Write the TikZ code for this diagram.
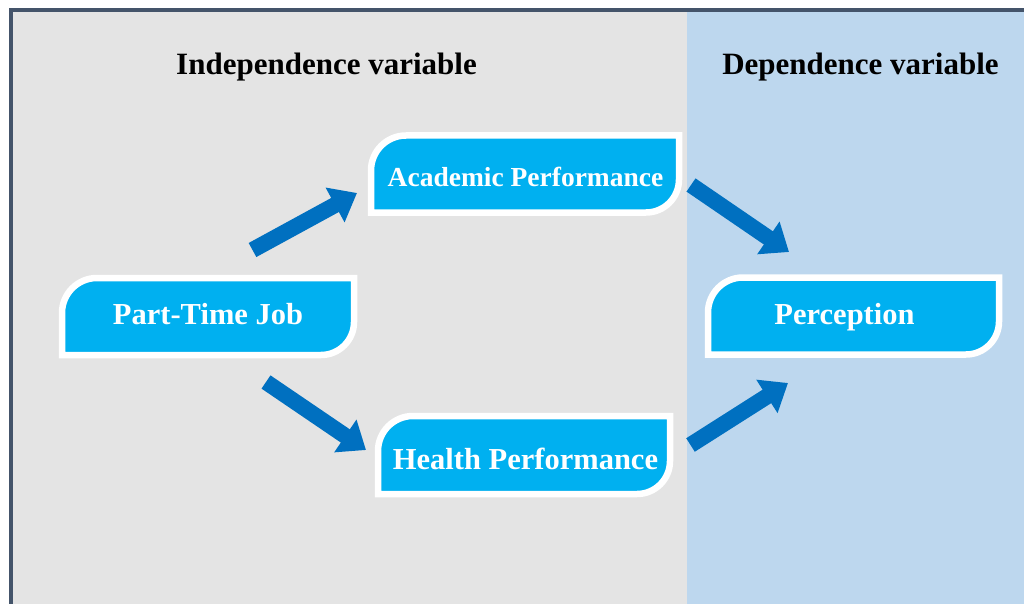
\documentclass[tikz,border=0pt]{standalone}
\usepackage{fontspec}
\setmainfont{Liberation Serif}
\usetikzlibrary{calc,arrows.meta}

\definecolor{panelgray}{HTML}{E4E4E4}
\definecolor{panelblue}{HTML}{BDD7EE}
\definecolor{framecol}{HTML}{44546A}
\definecolor{boxcyan}{HTML}{00B0F0}
\definecolor{arrowblue}{HTML}{0070C0}

% leaf-shaped box: rounded top-left and bottom-right corners, sharp others
\newcommand\leafbox[1]{%
  \filldraw[leaf] (#1.west) [rounded corners=35pt] -- (#1.north west) -- (#1.north)
    [sharp corners] -- (#1.north east) -- (#1.east)
    [rounded corners=33pt] -- (#1.south east) -- (#1.south)
    [sharp corners] -- (#1.south west) -- cycle;}

\tikzset{
  holder/.style={draw=none, inner sep=0pt, outer sep=0pt, rectangle},
  leaf/.style={fill=boxcyan, draw=white, line width=6.5pt},
  boxtext/.style={text=white, anchor=base, inner sep=0pt,
    font=\bfseries\fontsize{30.5}{36}\selectfont},
  heading/.style={text=black, anchor=base, inner sep=0pt,
    font=\bfseries\fontsize{31}{37}\selectfont},
  blockarrow/.style={draw=arrowblue, line width=16pt,
    -{Triangle[width=38pt,length=25pt]}}
}

\begin{document}
\begin{tikzpicture}[x=1pt,y=-1pt]
  \useasboundingbox (0,0) rectangle (1024,604);
  \fill[white] (0,0) rectangle (1024,604);

  % two panels and the frame
  \fill[panelgray] (13,12) rectangle (687,604);
  \fill[panelblue] (687,12) rectangle (1024,604);
  \draw[framecol, line width=4pt] (11,610) -- (11,10) -- (1030,10);

  % headings
  \node[heading] (indep) at (326.5,75) {Independence variable};
  \node[heading] (dep) at (860.5,75) {Dependence variable};

  % box frames
  \node[holder, minimum width=292pt, minimum height=77pt] (ptj) at (208,316.5) {};
  \node[holder, minimum width=308pt, minimum height=77pt] (acad) at (525,174) {};
  \node[holder, minimum width=292pt, minimum height=78pt] (health) at (524,455) {};
  \node[holder, minimum width=291pt, minimum height=77pt] (perc) at (853.5,316) {};

  \leafbox{ptj}
  \leafbox{acad}
  \leafbox{health}
  \leafbox{perc}

  % box labels
  \node[boxtext] (ptjtext) at ($(ptj.center)+(0,8)$) {Part-Time Job};
  \node[boxtext, font=\bfseries\fontsize{27.5}{33}\selectfont] (acadtext)
    at ($(acad.center)+(0.5,12)$) {Academic Performance};
  \node[boxtext] (healthtext) at ($(health.center)+(1.5,14)$) {Health Performance};
  \node[boxtext] (perctext) at ($(perc.center)+(-9,8.5)$) {Perception};

  % arrow ends
  \coordinate (a1s) at ($(ptj.north)+(44.5,-28)$);
  \coordinate (a1e) at ($(acad.west)+(-14,19)$);
  \coordinate (a2s) at ($(ptj.south)+(58,27)$);
  \coordinate (a2e) at ($(health.west)+(-12,-5)$);
  \coordinate (a3s) at ($(acad.east)+(12,11)$);
  \coordinate (a3e) at ($(perc.west)+(81,-64)$);
  \coordinate (a4s) at ($(health.east)+(20.5,-10)$);
  \coordinate (a4e) at ($(perc.west)+(80,67)$);

  \draw[blockarrow] (a1s) -- (a1e);
  \draw[blockarrow] (a2s) -- (a2e);
  \draw[blockarrow] (a3s) -- (a3e);
  \draw[blockarrow] (a4s) -- (a4e);
\end{tikzpicture}
\end{document}
